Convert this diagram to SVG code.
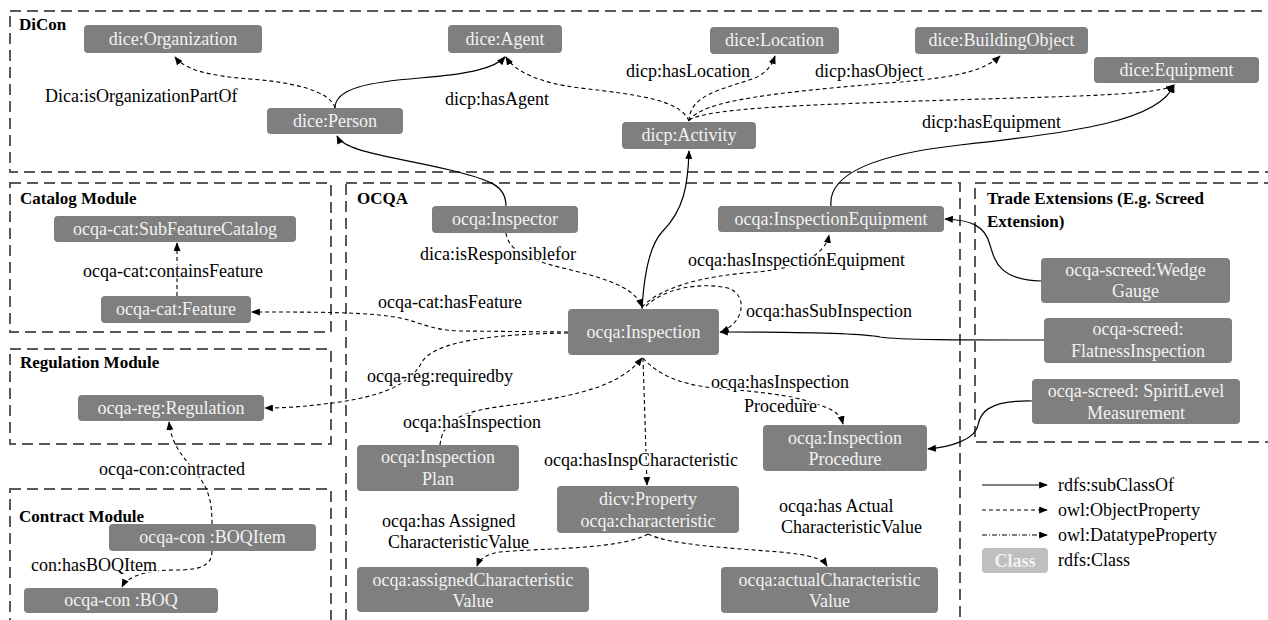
<svg xmlns="http://www.w3.org/2000/svg" width="1268" height="620" viewBox="0 0 1268 620">
<defs>
<style>
.bg{fill:#ffffff}
.cont{fill:none;stroke:#595959;stroke-width:2;stroke-dasharray:11 6}
.node rect{fill:#7f7f7f;rx:4;ry:4}
.node text{font-family:"Liberation Serif","Times New Roman",serif;font-size:18px;fill:#f2f2f2;text-anchor:middle}
.title{font-family:"Liberation Serif","Times New Roman",serif;font-size:17px;font-weight:bold;fill:#000}
.lbl{font-family:"Liberation Serif","Times New Roman",serif;font-size:18px;fill:#000;stroke:#fff;stroke-width:3px;paint-order:stroke;stroke-linejoin:round}
.sub{fill:none;stroke:#000;stroke-width:1.2;marker-end:url(#ah)}
.obj{fill:none;stroke:#000;stroke-width:1.1;stroke-dasharray:4 3;marker-end:url(#ah)}
.dt{fill:none;stroke:#000;stroke-width:1.1;stroke-dasharray:5 2 1 2;marker-end:url(#ah)}
</style>
<marker id="ah" viewBox="0 0 10 8" refX="9" refY="4" markerWidth="9" markerHeight="7" markerUnits="userSpaceOnUse" orient="auto">
<path d="M0,0 L10,4 L0,8 z" fill="#000"/>
</marker>
</defs>
<rect class="bg" x="0" y="0" width="1268" height="620"/>

<g id="containers">
<rect class="cont" x="10" y="11" width="1275" height="161"/>
<rect class="cont" x="10" y="183" width="321" height="149"/>
<rect class="cont" x="10" y="349" width="321" height="95"/>
<rect class="cont" x="10" y="489" width="321" height="140"/>
<rect class="cont" x="346" y="183" width="614" height="446"/>
<rect class="cont" x="975" y="183" width="310" height="259"/>
<text class="title" x="19" y="30">DiCon</text>
<text class="title" x="20" y="204">Catalog Module</text>
<text class="title" x="357" y="204">OCQA</text>
<text class="title" x="20" y="368">Regulation Module</text>
<text class="title" x="19" y="522">Contract Module</text>
<text class="title" x="987" y="204">Trade Extensions (E.g. Screed</text>
<text class="title" x="987" y="227">Extension)</text>
</g>

<g id="connectors">
<path class="obj" d="M335,108 C330,90 290,82 250,79 C210,76 185,70 175,57"/>
<path class="sub" d="M335,108 C335,88 370,82 420,78 C470,74 495,68 505,57"/>
<path class="obj" d="M689,121 C680,100 640,95 580,88 C540,83 515,72 506,57"/>
<path class="obj" d="M689,121 C690,95 720,90 755,78 C768,72 772,64 775,56"/>
<path class="obj" d="M689,121 C700,100 780,92 900,82 C960,77 985,70 1000,56"/>
<path class="obj" d="M689,120 C710,108 800,105 950,100 C1080,96 1160,95 1174,85"/>
<path class="sub" d="M831,206 C828,175 870,155 960,145 C1080,132 1160,120 1174,85"/>
<path class="sub" d="M506,206 C506,185 490,180 450,170 C390,156 345,152 337,136"/>
<path class="sub" d="M642,309 C644,275 650,245 662,232 C684,210 688,185 689,151"/>
<path class="obj" d="M506,233 C510,262 560,265 600,278 C625,286 638,295 642,307"/>
<path class="obj" d="M642,307 C660,288 700,276 757,272 C800,268 825,255 829,235"/>
<path class="obj" d="M646,306 C665,288 700,282 728,288 C748,295 745,322 721,332"/>
<path class="obj" d="M568,332 L460,331 C430,330 420,322 400,318 C370,312 320,312 252,312"/>
<path class="obj" d="M568,333 C500,334 435,340 422,362 C410,385 380,396 340,402 C310,406 290,408 265,408"/>
<path class="obj" d="M440,445 C442,425 455,414 490,408 C560,398 615,392 642,358"/>
<path class="obj" d="M643,358 C660,378 690,386 715,388 C760,392 790,395 810,402 C830,408 840,412 843,424"/>
<path class="obj" d="M643,358 L647,485"/>
<path class="obj" d="M648,534 C620,550 540,548 500,552 C488,554 480,558 477,566"/>
<path class="obj" d="M648,534 C670,545 730,548 780,552 C810,555 822,558 827,566"/>
<path class="sub" d="M1041,281 C1000,280 995,262 990,245 C985,225 970,220 945,219"/>
<path class="sub" d="M1044,340 C960,340 900,340 880,337 C860,333 800,332 720,332"/>
<path class="sub" d="M1032,401 C985,400 980,415 978,425 C975,440 950,447 928,449"/>
<path class="obj" d="M177,296 L177,243"/>
<path class="obj" d="M212,524 C212,500 208,490 200,478 C185,458 172,448 169,422"/>
<path class="obj" d="M212,551 C212,566 200,570 175,570 C150,570 128,575 122,587"/>
</g>

<g id="labels">
<text class="lbl" x="45" y="102">Dica:isOrganizationPartOf</text>
<text class="lbl" x="445" y="105">dicp:hasAgent</text>
<text class="lbl" x="626" y="77">dicp:hasLocation</text>
<text class="lbl" x="815" y="77">dicp:hasObject</text>
<text class="lbl" x="922" y="128">dicp:hasEquipment</text>
<text class="lbl" x="83" y="277">ocqa-cat:containsFeature</text>
<text class="lbl" x="420" y="260">dica:isResponsiblefor</text>
<text class="lbl" x="378" y="308">ocqa-cat:hasFeature</text>
<text class="lbl" x="688" y="266">ocqa:hasInspectionEquipment</text>
<text class="lbl" x="746" y="317">ocqa:hasSubInspection</text>
<text class="lbl" x="367" y="382">ocqa-reg:requiredby</text>
<text class="lbl" x="711" y="388">ocqa:hasInspection</text>
<text class="lbl" x="744" y="412">Procedure</text>
<text class="lbl" x="403" y="428">ocqa:hasInspection</text>
<text class="lbl" x="544" y="466">ocqa:hasInspCharacteristic</text>
<text class="lbl" x="382" y="527">ocqa:has Assigned</text>
<text class="lbl" x="388" y="548">CharacteristicValue</text>
<text class="lbl" x="779" y="512">ocqa:has Actual</text>
<text class="lbl" x="781" y="533">CharacteristicValue</text>
<text class="lbl" x="99" y="475">ocqa-con:contracted</text>
<text class="lbl" x="31" y="571">con:hasBOQItem</text>
</g>

<g id="n-organization" class="node"><rect x="84" y="25" width="178" height="28"/><text x="173" y="45">dice:Organization</text></g>
<g id="n-agent" class="node"><rect x="448" y="25" width="114" height="28"/><text x="505" y="45">dice:Agent</text></g>
<g id="n-person" class="node"><rect x="267" y="108" width="136" height="26"/><text x="335" y="127">dice:Person</text></g>
<g id="n-location" class="node"><rect x="710" y="27" width="129" height="27"/><text x="774.5" y="46">dice:Location</text></g>
<g id="n-buildingobject" class="node"><rect x="915" y="27" width="173" height="27"/><text x="1001.5" y="46">dice:BuildingObject</text></g>
<g id="n-equipment" class="node"><rect x="1094" y="57" width="165" height="26"/><text x="1176.5" y="76">dice:Equipment</text></g>
<g id="n-activity" class="node"><rect x="622" y="122" width="134" height="27"/><text x="689" y="141">dicp:Activity</text></g>
<g id="n-inspector" class="node"><rect x="432" y="206" width="146" height="27"/><text x="505" y="225">ocqa:Inspector</text></g>
<g id="n-inspectionequipment" class="node"><rect x="718" y="206" width="226" height="26"/><text x="831" y="225">ocqa:InspectionEquipment</text></g>
<g id="n-subfeaturecatalog" class="node"><rect x="54" y="216" width="242" height="26"/><text x="175" y="235">ocqa-cat:SubFeatureCatalog</text></g>
<g id="n-feature" class="node"><rect x="101" y="296" width="150" height="27"/><text x="176" y="315">ocqa-cat:Feature</text></g>
<g id="n-inspection" class="node"><rect x="568" y="309" width="151" height="46"/><text x="643.5" y="338">ocqa:Inspection</text></g>
<g id="n-regulation" class="node"><rect x="78" y="395" width="186" height="26"/><text x="171" y="414">ocqa-reg:Regulation</text></g>
<g id="n-wedgegauge" class="node"><rect x="1041" y="258" width="189" height="45"/><text x="1135.5" y="276">ocqa-screed:Wedge</text><text x="1135.5" y="297">Gauge</text></g>
<g id="n-flatness" class="node"><rect x="1044" y="318" width="188" height="45"/><text x="1138" y="335">ocqa-screed:</text><text x="1138" y="357">FlatnessInspection</text></g>
<g id="n-spiritlevel" class="node"><rect x="1032" y="379" width="208" height="45"/><text x="1136" y="397">ocqa-screed: SpiritLevel</text><text x="1136" y="419">Measurement</text></g>
<g id="n-inspectionplan" class="node"><rect x="357" y="445" width="162" height="46"/><text x="438" y="463">ocqa:Inspection</text><text x="438" y="485">Plan</text></g>
<g id="n-inspectionprocedure" class="node"><rect x="763" y="425" width="164" height="46"/><text x="845" y="444">ocqa:Inspection</text><text x="845" y="465">Procedure</text></g>
<g id="n-property" class="node"><rect x="557" y="486" width="182" height="47"/><text x="648" y="505">dicv:Property</text><text x="648" y="527">ocqa:characteristic</text></g>
<g id="n-assigned" class="node"><rect x="357" y="567" width="232" height="45"/><text x="473" y="586">ocqa:assignedCharacteristic</text><text x="473" y="607">Value</text></g>
<g id="n-actual" class="node"><rect x="721" y="567" width="217" height="46"/><text x="829.5" y="586">ocqa:actualCharacteristic</text><text x="829.5" y="607">Value</text></g>
<g id="n-boqitem" class="node"><rect x="109" y="524" width="207" height="27"/><text x="212.5" y="543">ocqa-con :BOQItem</text></g>
<g id="n-boq" class="node"><rect x="24" y="588" width="194" height="25"/><text x="121" y="606">ocqa-con :BOQ</text></g>

<g id="legend">
<path class="sub" d="M982,485 L1047,485"/>
<path class="obj" d="M982,510 L1047,510"/>
<path class="dt" d="M982,535 L1047,535"/>
<rect x="982" y="548" width="66" height="25" rx="4" ry="4" fill="#bfbfbf"/>
<text x="1015" y="567" font-family="Liberation Serif, Times New Roman, serif" font-size="18" font-weight="bold" fill="#f2f2f2" text-anchor="middle">Class</text>
<text class="lbl" x="1058" y="491">rdfs:subClassOf</text>
<text class="lbl" x="1058" y="516">owl:ObjectProperty</text>
<text class="lbl" x="1058" y="541">owl:DatatypeProperty</text>
<text class="lbl" x="1058" y="566">rdfs:Class</text>
</g>
</svg>
